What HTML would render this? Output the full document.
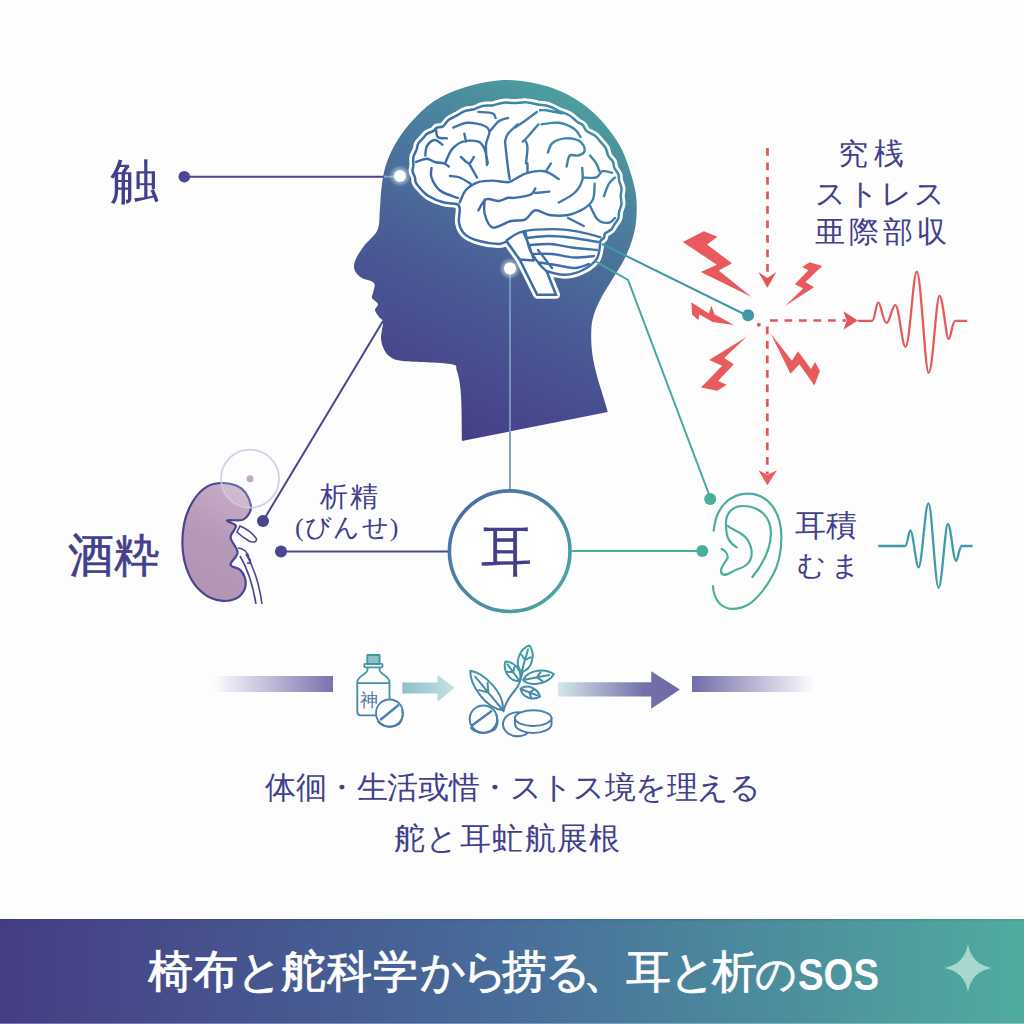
<!DOCTYPE html>
<html lang="ja"><head><meta charset="utf-8">
<style>
html,body{margin:0;padding:0;background:#fdfdfe;}
body{width:1024px;height:1024px;overflow:hidden;position:relative;font-family:"Liberation Serif",serif;}
svg{position:absolute;left:0;top:0;}
.t{font-family:"Liberation Serif",serif;fill:#433f8c;}
.w{font-family:"Liberation Serif",serif;}
</style></head><body>
<svg width="1024" height="1024" viewBox="0 0 1024 1024">
<defs>
<linearGradient id="gHead" x1="630" y1="95" x2="460" y2="440" gradientUnits="userSpaceOnUse">
<stop offset="0" stop-color="#4ca89e"/><stop offset="0.3" stop-color="#4a7f9e"/><stop offset="0.6" stop-color="#4a5c96"/><stop offset="1" stop-color="#463e88"/>
</linearGradient>
<linearGradient id="gBanner" x1="0" y1="0" x2="1024" y2="0" gradientUnits="userSpaceOnUse">
<stop offset="0" stop-color="#453d84"/><stop offset="0.5" stop-color="#486d9a"/><stop offset="1" stop-color="#50ac9f"/>
</linearGradient>
<linearGradient id="gCircle" x1="450" y1="490" x2="570" y2="610" gradientUnits="userSpaceOnUse">
<stop offset="0" stop-color="#4a64a8"/><stop offset="1" stop-color="#4aae9e"/>
</linearGradient>
<linearGradient id="gBarL" x1="213" y1="0" x2="333" y2="0" gradientUnits="userSpaceOnUse">
<stop offset="0" stop-color="#7a72ad" stop-opacity="0"/><stop offset="1" stop-color="#7a72ad"/>
</linearGradient>
<linearGradient id="gBarR" x1="692" y1="0" x2="814" y2="0" gradientUnits="userSpaceOnUse">
<stop offset="0" stop-color="#716ca8"/><stop offset="1" stop-color="#716ca8" stop-opacity="0"/>
</linearGradient>
<linearGradient id="gArrowBig" x1="558" y1="0" x2="680" y2="0" gradientUnits="userSpaceOnUse">
<stop offset="0" stop-color="#d4e8e8"/><stop offset="0.7" stop-color="#7570aa"/><stop offset="1" stop-color="#6e69a6"/>
</linearGradient>
<linearGradient id="gArrowSm" x1="402" y1="0" x2="455" y2="0" gradientUnits="userSpaceOnUse">
<stop offset="0" stop-color="#8cbfc8"/><stop offset="1" stop-color="#c8e2e2"/>
</linearGradient>
<linearGradient id="gIcon" x1="0" y1="645" x2="0" y2="735" gradientUnits="userSpaceOnUse">
<stop offset="0" stop-color="#3fa0a0"/><stop offset="1" stop-color="#4a78b0"/>
</linearGradient>
<linearGradient id="gBrainLine" x1="420" y1="290" x2="620" y2="100" gradientUnits="userSpaceOnUse">
<stop offset="0" stop-color="#3b60a6"/><stop offset="0.55" stop-color="#3d72ac"/><stop offset="1" stop-color="#3f9ea6"/>
</linearGradient>
<linearGradient id="gKid" x1="245" y1="490" x2="190" y2="590" gradientUnits="userSpaceOnUse">
<stop offset="0" stop-color="#c8aec8"/><stop offset="0.5" stop-color="#b698b8"/><stop offset="1" stop-color="#b294b4"/>
</linearGradient>
<radialGradient id="gGlow"><stop offset="0.5" stop-color="#ffffff" stop-opacity="0.5"/><stop offset="1" stop-color="#ffffff" stop-opacity="0"/></radialGradient>
</defs>

<!-- connector lines -->
<line x1="184" y1="176.7" x2="400" y2="176.7" stroke="#4a4590" stroke-width="2"/>
<circle cx="184.3" cy="176.7" r="5.8" fill="#4a4590"/>
<line x1="383" y1="321" x2="263" y2="521" stroke="#4a4590" stroke-width="2"/>
<circle cx="263" cy="521" r="6" fill="#4a4590"/>
<line x1="281" y1="551.5" x2="448" y2="551.5" stroke="#4a4a98" stroke-width="2"/>
<circle cx="281" cy="551.5" r="6" fill="#4a4590"/>

<!-- head -->
<path d="M462.0,441.0 C461.8,433.3 461.8,406.7 461.0,395.0 C460.2,383.3 458.8,376.2 457.0,371.0 C455.2,365.8 459.0,365.7 450.0,364.0 C441.0,362.3 413.2,362.3 403.0,361.0 C392.8,359.7 392.3,358.3 389.0,356.0 C385.7,353.7 384.3,350.2 383.0,347.0 C381.7,343.8 381.0,341.2 381.0,337.0 C381.0,332.8 383.3,325.3 383.0,322.0 C382.7,318.7 380.3,319.0 379.0,317.0 C377.7,315.0 375.2,312.2 375.0,310.0 C374.8,307.8 378.5,306.0 378.0,304.0 C377.5,302.0 372.8,299.8 372.0,298.0 C371.2,296.2 372.7,295.5 373.0,293.0 C373.3,290.5 375.8,285.5 374.0,283.0 C372.2,280.5 365.2,280.0 362.0,278.0 C358.8,276.0 356.2,273.8 355.0,271.0 C353.8,268.2 353.5,265.2 355.0,261.0 C356.5,256.8 360.2,251.2 364.0,246.0 C367.8,240.8 374.9,235.9 377.5,230.0 C380.1,224.1 379.2,217.5 379.8,210.6 C380.4,203.7 380.5,196.0 381.4,188.8 C382.3,181.5 383.1,174.2 385.3,166.9 C387.5,159.6 390.5,152.3 394.7,145.0 C398.9,137.7 403.8,130.3 410.3,123.0 C416.8,115.7 424.6,107.2 433.8,101.2 C442.9,95.3 454.0,90.7 465.0,87.2 C476.0,83.7 489.0,81.0 500.0,80.2 C511.0,79.4 520.8,80.5 531.2,82.5 C541.7,84.5 553.1,87.7 562.5,91.9 C571.9,96.1 580.2,101.8 587.5,107.5 C594.8,113.2 600.8,119.7 606.2,126.2 C611.7,132.8 616.4,139.3 620.3,146.6 C624.2,153.9 627.1,161.9 629.7,170.0 C632.3,178.1 634.9,186.7 636.0,195.0 C637.1,203.3 636.8,212.6 636.2,220.0 C635.6,227.4 634.2,233.0 632.3,239.5 C630.3,246.0 627.8,252.5 624.5,259.0 C621.2,265.5 616.7,272.1 612.8,278.6 C608.9,285.1 604.1,292.3 601.0,298.2 C597.9,304.1 595.8,308.6 594.2,313.8 C592.6,319.0 591.6,322.9 591.3,329.4 C591.0,335.9 591.2,345.1 592.2,352.9 C593.2,360.7 595.3,369.1 597.1,376.3 C598.9,383.5 601.2,389.9 603.0,395.9 C604.8,401.8 607.1,409.3 607.9,412.0 L462,441Z" fill="url(#gHead)"/>
<!-- brain -->
<path d="M600.5,240.8 C601.1,240.3 603.1,239.0 603.9,237.8 C604.7,236.6 603.9,234.8 605.1,233.4 C606.3,232.1 609.6,231.1 611.2,229.5 C612.8,228.0 613.3,226.0 614.5,224.2 C615.6,222.3 617.5,220.6 618.3,218.5 C619.1,216.4 618.6,214.1 619.1,211.7 C619.7,209.3 621.2,206.8 621.5,204.2 C621.7,201.5 620.7,198.5 620.7,195.9 C620.7,193.3 621.7,190.9 621.5,188.4 C621.2,185.8 619.6,183.0 619.1,180.6 C618.6,178.2 619.1,176.3 618.3,174.2 C617.6,172.2 615.3,170.2 614.4,168.1 C613.5,166.0 613.9,163.7 612.9,161.6 C611.8,159.6 609.3,158.0 608.2,155.8 C607.0,153.5 607.1,150.6 605.8,148.3 C604.5,146.0 602.3,144.0 600.5,141.8 C598.6,139.7 597.2,137.4 594.8,135.6 C592.5,133.8 588.4,132.7 586.4,130.9 C584.4,129.2 584.5,126.8 583.0,125.3 C581.4,123.8 579.4,123.4 577.1,121.7 C574.7,119.9 571.9,116.8 568.8,115.0 C565.7,113.2 561.7,112.3 558.4,110.8 C555.1,109.3 552.4,107.3 549.0,106.2 C545.6,105.2 542.0,105.2 538.2,104.6 C534.5,103.9 530.5,102.5 526.5,102.3 C522.6,102.0 518.3,103.0 514.4,103.1 C510.5,103.2 506.9,102.3 503.3,102.7 C499.7,103.0 496.1,104.8 492.7,105.4 C489.2,105.9 485.8,105.2 482.7,105.9 C479.6,106.5 477.1,108.4 474.1,109.3 C471.0,110.1 467.4,110.0 464.6,111.1 C461.7,112.1 459.6,114.0 457.0,115.4 C454.4,116.9 451.1,118.0 448.8,119.8 C446.5,121.6 445.0,125.0 443.0,126.4 C441.0,127.7 438.5,127.0 436.9,127.7 C435.3,128.5 435.2,129.9 433.5,130.9 C431.8,132.0 428.5,132.7 426.7,134.0 C424.9,135.3 424.2,137.1 422.7,138.6 C421.3,140.2 419.2,141.7 418.2,143.5 C417.1,145.4 417.4,147.3 416.6,149.6 C415.8,151.8 414.0,154.4 413.4,157.0 C412.9,159.6 413.5,162.7 413.4,165.1 C413.3,167.5 412.3,169.1 412.6,171.2 C412.9,173.2 414.5,175.7 415.0,177.5 C415.5,179.4 415.0,180.7 415.7,182.3 C416.4,183.9 416.9,184.7 419.0,187.0 C421.1,189.3 424.2,193.4 428.4,196.0 C432.6,198.6 439.3,201.2 444.0,202.5 C448.7,203.8 454.0,203.0 456.6,204.0 C459.2,205.0 459.3,205.6 459.7,208.8 C460.1,211.9 458.2,218.6 459.0,222.8 C459.8,227.0 461.2,230.8 464.4,233.8 C467.6,236.8 472.7,239.1 478.4,240.8 C484.1,242.5 494.0,243.9 498.8,244.0 C503.5,244.1 505.4,241.8 506.7,241.4 L519.6,259.5 L537.2,294.7 L556,294.7 L546.6,271.25  C549.7,271.8 559.2,275.0 565.3,274.8 C571.4,274.6 577.7,272.7 583.0,270.0 C588.3,267.3 594.1,263.3 597.0,258.4 C599.9,253.5 599.9,243.7 600.5,240.8Z" fill="#ffffff" stroke="#ffffff" stroke-width="8" stroke-linejoin="round"/>
<path d="M600.5,240.8 C601.1,240.3 603.1,239.0 603.9,237.8 C604.7,236.6 603.9,234.8 605.1,233.4 C606.3,232.1 609.6,231.1 611.2,229.5 C612.8,228.0 613.3,226.0 614.5,224.2 C615.6,222.3 617.5,220.6 618.3,218.5 C619.1,216.4 618.6,214.1 619.1,211.7 C619.7,209.3 621.2,206.8 621.5,204.2 C621.7,201.5 620.7,198.5 620.7,195.9 C620.7,193.3 621.7,190.9 621.5,188.4 C621.2,185.8 619.6,183.0 619.1,180.6 C618.6,178.2 619.1,176.3 618.3,174.2 C617.6,172.2 615.3,170.2 614.4,168.1 C613.5,166.0 613.9,163.7 612.9,161.6 C611.8,159.6 609.3,158.0 608.2,155.8 C607.0,153.5 607.1,150.6 605.8,148.3 C604.5,146.0 602.3,144.0 600.5,141.8 C598.6,139.7 597.2,137.4 594.8,135.6 C592.5,133.8 588.4,132.7 586.4,130.9 C584.4,129.2 584.5,126.8 583.0,125.3 C581.4,123.8 579.4,123.4 577.1,121.7 C574.7,119.9 571.9,116.8 568.8,115.0 C565.7,113.2 561.7,112.3 558.4,110.8 C555.1,109.3 552.4,107.3 549.0,106.2 C545.6,105.2 542.0,105.2 538.2,104.6 C534.5,103.9 530.5,102.5 526.5,102.3 C522.6,102.0 518.3,103.0 514.4,103.1 C510.5,103.2 506.9,102.3 503.3,102.7 C499.7,103.0 496.1,104.8 492.7,105.4 C489.2,105.9 485.8,105.2 482.7,105.9 C479.6,106.5 477.1,108.4 474.1,109.3 C471.0,110.1 467.4,110.0 464.6,111.1 C461.7,112.1 459.6,114.0 457.0,115.4 C454.4,116.9 451.1,118.0 448.8,119.8 C446.5,121.6 445.0,125.0 443.0,126.4 C441.0,127.7 438.5,127.0 436.9,127.7 C435.3,128.5 435.2,129.9 433.5,130.9 C431.8,132.0 428.5,132.7 426.7,134.0 C424.9,135.3 424.2,137.1 422.7,138.6 C421.3,140.2 419.2,141.7 418.2,143.5 C417.1,145.4 417.4,147.3 416.6,149.6 C415.8,151.8 414.0,154.4 413.4,157.0 C412.9,159.6 413.5,162.7 413.4,165.1 C413.3,167.5 412.3,169.1 412.6,171.2 C412.9,173.2 414.5,175.7 415.0,177.5 C415.5,179.4 415.0,180.7 415.7,182.3 C416.4,183.9 416.9,184.7 419.0,187.0 C421.1,189.3 424.2,193.4 428.4,196.0 C432.6,198.6 439.3,201.2 444.0,202.5 C448.7,203.8 454.0,203.0 456.6,204.0 C459.2,205.0 459.3,205.6 459.7,208.8 C460.1,211.9 458.2,218.6 459.0,222.8 C459.8,227.0 461.2,230.8 464.4,233.8 C467.6,236.8 472.7,239.1 478.4,240.8 C484.1,242.5 494.0,243.9 498.8,244.0 C503.5,244.1 505.4,241.8 506.7,241.4 L519.6,259.5 L537.2,294.7 L556,294.7 L546.6,271.25  C549.7,271.8 559.2,275.0 565.3,274.8 C571.4,274.6 577.7,272.7 583.0,270.0 C588.3,267.3 594.1,263.3 597.0,258.4 C599.9,253.5 599.9,243.7 600.5,240.8Z" fill="#ffffff" stroke="url(#gBrainLine)" stroke-width="2.5"/>
<path d="M459.7,202.5 C460.8,200.4 462.9,193.4 466.0,190.0 C469.1,186.6 474.0,183.8 478.4,182.2 C482.8,180.6 487.6,180.6 492.5,180.6 C497.4,180.6 504.2,182.5 508.0,182.2 C511.8,181.9 511.8,180.6 515.0,179.0 C518.2,177.4 522.5,174.1 527.5,172.8 C532.5,171.5 539.5,170.2 544.7,171.2 C549.9,172.3 556.4,177.7 558.8,179.0 M527.5,172.8 L527.5,163.4 M546.0,171.2 L551.0,163.4 M478.4,210.3 C479.7,208.5 482.6,201.0 486.0,199.4 C489.4,197.8 495.1,201.3 498.8,201.0 C502.4,200.7 505.3,198.3 508.0,197.8 C510.7,197.3 511.2,198.3 515.0,197.8 C518.8,197.3 527.2,196.3 530.6,194.7 C534.0,193.1 534.5,189.4 535.3,188.4 M535.3,193.0 L549.4,191.6 M484.7,199.4 C484.7,201.8 483.4,209.3 484.7,214.0 C486.0,218.7 488.1,226.3 492.5,227.5 C496.9,228.7 505.6,222.3 511.0,221.0 C516.4,219.7 521.0,221.5 525.0,219.7 C529.0,217.9 531.2,211.1 535.3,210.3 C539.4,209.5 543.9,214.2 549.4,215.0 C554.9,215.8 562.3,216.0 568.0,215.0 C573.7,214.0 579.6,211.3 583.8,208.8 C587.9,206.2 591.2,203.6 593.0,199.4 C594.8,195.2 594.4,186.4 594.7,183.8 M558.8,202.5 C561.4,200.9 570.5,196.7 574.4,193.0 C578.3,189.3 580.9,184.8 582.2,180.6 C583.5,176.4 582.2,170.1 582.2,168.0 M568.0,218.0 L583.8,226.0 M590.0,205.6 C591.3,207.9 594.7,216.8 597.8,219.7 C600.9,222.6 605.9,223.1 608.8,222.8 C611.6,222.5 614.0,218.8 615.0,218.0 M604.0,196.2 C604.8,194.2 606.9,186.9 608.8,183.8 C610.6,180.6 614.0,178.5 615.0,177.5 M583.8,177.5 C585.8,177.5 593.1,178.5 596.2,177.5 C599.4,176.5 599.9,172.0 602.5,171.2 C605.1,170.5 610.4,172.5 612.0,172.8 M590.0,155.6 C591.0,156.9 594.7,160.8 596.2,163.4 C597.8,166.0 598.9,169.9 599.4,171.2 M547.8,152.5 C548.6,150.9 549.6,145.3 552.5,143.0 C555.4,140.7 560.8,138.9 565.0,138.4 C569.2,137.9 574.4,138.7 577.5,140.0 C580.6,141.3 582.7,143.9 583.8,146.0 C584.8,148.1 584.8,150.9 583.8,152.5 C582.7,154.1 579.8,155.1 577.5,155.6 C575.2,156.1 571.5,153.8 569.7,155.6 C567.9,157.4 567.1,164.7 566.6,166.5 M515.0,127.5 C516.6,126.5 520.8,123.8 524.4,121.2 C528.0,118.7 534.8,113.5 536.9,111.9 M538.4,124.4 C536.6,126.5 530.1,134.1 527.5,137.0 C524.9,139.9 523.6,140.8 522.8,141.6 M541.6,124.4 C544.5,124.1 553.3,122.0 558.8,122.8 C564.2,123.6 570.8,126.6 574.4,129.0 C578.0,131.4 579.6,135.7 580.6,137.0 M526.0,163.4 C526.2,160.8 527.5,151.4 527.5,147.8 C527.5,144.2 526.2,142.6 526.0,141.6 M540.0,110.3 C541.0,110.3 542.3,109.8 546.0,110.3 C549.7,110.8 559.3,112.9 562.0,113.4 M416.0,162.0 C417.8,161.5 423.9,158.8 427.0,158.8 C430.1,158.8 431.9,161.2 434.7,162.0 C437.5,162.8 441.7,162.6 444.0,163.4 C446.3,164.2 448.0,166.1 448.8,166.6 M431.5,168.0 C431.5,169.6 430.2,173.8 431.5,177.5 C432.8,181.2 436.0,186.9 439.4,190.0 C442.8,193.1 448.9,194.7 452.0,196.0 C455.1,197.3 457.0,197.5 458.0,197.8 M425.3,155.6 C425.6,154.0 425.4,148.6 427.0,146.0 C428.6,143.4 432.1,140.2 434.7,140.0 C437.3,139.8 441.2,143.9 442.5,144.7 M436.0,129.0 C436.3,130.3 436.0,135.4 437.8,137.0 C439.6,138.6 445.5,138.2 447.0,138.4 M445.6,162.0 C446.7,159.9 449.1,152.8 452.0,149.4 C454.9,146.0 458.4,142.9 462.8,141.6 C467.2,140.3 474.8,140.3 478.4,141.6 C482.0,142.9 483.1,145.8 484.7,149.4 C486.3,153.0 487.3,161.1 487.8,163.4 M461.0,157.0 C462.3,158.1 466.9,163.4 469.0,163.4 C471.1,163.4 473.0,158.1 473.8,157.0 M469.0,163.4 L477.0,177.5 M450.0,176.0 C451.6,176.2 456.3,176.2 459.7,177.5 C463.1,178.8 468.8,182.7 470.6,183.8 M478.4,111.9 C480.8,112.2 489.6,112.4 492.5,113.4 C495.4,114.4 495.1,117.2 495.6,118.0 M489.4,132.0 C491.0,130.2 495.6,123.6 498.8,121.2 C501.9,118.9 506.5,118.5 508.0,118.0 M453.4,127.5 C455.8,126.7 462.3,123.0 467.5,122.8 C472.7,122.5 481.1,124.4 484.7,126.0 C488.3,127.6 489.2,129.1 489.4,132.2 C489.6,135.3 486.4,139.2 486.0,144.7 C485.6,150.2 486.8,161.6 487.0,165.0 M505.0,141.6 C505.5,140.3 505.9,136.6 508.0,133.8 C510.1,130.9 515.9,126.0 517.5,124.4 M505.0,141.6 C505.5,146.0 507.2,161.8 508.0,168.0 C508.8,174.2 509.4,177.2 509.7,179.0 M464.4,133.8 L466.0,141.6 M506.7,240.2 C509.4,238.7 515.3,233.2 523.1,231.4 C530.9,229.6 544.6,229.1 553.6,229.1 C562.6,229.1 569.2,230.0 577.0,231.4 C584.8,232.8 596.6,236.3 600.5,237.3 M523.1,231.4 C524.1,233.8 527.2,240.8 529.0,245.5 C530.8,250.2 532.9,257.2 533.7,259.5 M519.6,259.5 L533.7,260.5 M525.5,232.6 C526.2,235.5 527.7,244.7 530.0,250.0 C532.3,255.3 536.7,260.7 539.5,264.2 C542.3,267.7 545.4,270.1 546.6,271.2 M527.0,238.0 C530.5,237.7 540.8,236.1 548.0,236.0 C555.2,235.9 561.7,236.5 570.0,237.5 C578.3,238.5 593.3,241.2 598.0,242.0 M529.5,245.0 C532.9,244.8 542.9,243.6 550.0,244.0 C557.1,244.4 564.2,246.5 572.0,247.5 C579.8,248.5 592.8,249.6 597.0,250.0 M533.5,254.0 C536.6,254.0 545.2,253.4 552.0,254.0 C558.8,254.6 567.0,257.2 574.0,257.5 C581.0,257.8 590.7,256.2 594.0,256.0 M539.5,262.5 C542.2,262.9 550.1,264.1 556.0,265.0 C561.9,265.9 569.5,268.2 575.0,268.0 C580.5,267.8 586.7,264.7 589.0,264.0 M538.0,250.0 C539.2,251.5 542.7,256.0 545.0,259.0 C547.3,262.0 550.8,266.5 552.0,268.0" fill="none" stroke="url(#gBrainLine)" stroke-width="2.4" stroke-linecap="round" stroke-linejoin="round"/>

<line x1="384" y1="176.7" x2="396" y2="176.7" stroke="#8aa2c8" stroke-width="2"/>
<circle cx="400" cy="176" r="11" fill="url(#gGlow)"/>
<circle cx="400" cy="176" r="6" fill="#fff"/>
<line x1="510" y1="268" x2="510" y2="490" stroke="#7c9cc4" stroke-width="1.8"/>
<circle cx="510" cy="268.5" r="11" fill="url(#gGlow)"/>
<circle cx="510" cy="268.5" r="6" fill="#fff"/>

<!-- teal lines -->
<line x1="602" y1="244" x2="748" y2="316" stroke="#3f98a8" stroke-width="2"/>
<polyline points="595,261 628,280 710,497" fill="none" stroke="#45a8a0" stroke-width="2"/>
<circle cx="748.1" cy="315.3" r="6" fill="#3f98a8"/>
<circle cx="710.2" cy="499" r="6" fill="#4aae9c"/>
<line x1="572" y1="551" x2="702" y2="551" stroke="#4aae9c" stroke-width="2"/>
<circle cx="702.3" cy="550.9" r="6" fill="#4aae9c"/>

<!-- central circle -->
<circle cx="509.7" cy="551.2" r="60.3" fill="#fff" stroke="url(#gCircle)" stroke-width="3.6"/>
<text transform="translate(506,570) scale(1,1.08)" class="t" font-size="51" text-anchor="middle" stroke="#433f8c" stroke-width="0.3">耳</text>

<!-- kidney -->

<path d="M240,526 C247,529 253,534 256,538 C258,542 253,543 249,541 C244,538 240,535 237,532Z" fill="#fff" stroke="#4a4590" stroke-width="1.6"/>
<path d="M238,548 C243,548 248,552 249,558 C251,560 251,564 247,563" fill="#fff" stroke="#4a4590" stroke-width="1.6"/>
<path d="M240,556 C246,566 252,580 256,604 M246,554 C253,566 259,582 262,604" fill="none" stroke="#4a4590" stroke-width="1.6"/>
<path d="M222.7,483.0 C227.7,482.9 233.0,484.1 236.8,485.7 C240.6,487.3 243.2,489.5 245.5,492.7 C247.8,495.9 250.2,501.5 250.8,505.0 C251.4,508.5 250.5,511.3 249.0,513.8 C247.5,516.3 245.7,518.9 242.0,520.0 C238.3,521.1 228.0,519.5 227.0,520.5 C226.0,521.5 235.4,523.2 236.0,526.0 C236.6,528.8 230.3,533.1 230.6,537.5 C230.9,541.9 237.6,547.9 237.6,552.4 C237.6,556.9 230.1,561.8 230.6,564.7 C231.1,567.6 237.8,567.4 240.3,570.0 C242.8,572.6 244.9,577.0 245.5,580.5 C246.1,584.0 245.6,587.9 243.8,591.0 C242.1,594.1 238.8,597.4 235.0,599.0 C231.2,600.6 226.0,601.4 221.0,600.7 C216.0,600.0 210.0,598.2 205.0,594.6 C200.0,591.0 194.6,585.5 191.0,578.8 C187.4,572.1 184.4,563.3 183.2,554.2 C182.0,545.1 182.4,533.1 184.0,524.3 C185.6,515.5 189.0,507.8 192.8,501.5 C196.6,495.2 201.9,489.7 206.9,486.6 C211.9,483.5 217.7,483.1 222.7,483.0Z" fill="url(#gKid)" stroke="#4a4590" stroke-width="2.2"/>
<circle cx="250" cy="478.7" r="29" fill="#ffffff" fill-opacity="0.18" stroke="#cfcbe0" stroke-opacity="0.9" stroke-width="1.8"/>
<circle cx="250" cy="478.7" r="3.5" fill="#c4a8cc"/>

<!-- red dashed -->
<line x1="767.5" y1="148" x2="767.5" y2="280" stroke="#e55555" stroke-width="2.7" stroke-dasharray="7.7 6.8"/>
<line x1="767.3" y1="326.5" x2="767.3" y2="474" stroke="#e55555" stroke-width="2.7" stroke-dasharray="7.7 6.8"/>
<path d="M758.2,271.9 L767.4,278 L776.3,271.9 L767.4,287.7Z" fill="#e55555"/>
<path d="M758.5,470.3 L767.3,474.7 L777,470.3 L767.3,485.2Z" fill="#e5625a"/>
<line x1="770" y1="320.5" x2="846" y2="320.5" stroke="#e55555" stroke-width="2.7" stroke-dasharray="7.7 6.8"/>
<path d="M843.4,311.3 L857.8,320.5 L843.4,329.7 L846.8,320.5Z" fill="#e55555"/>
<path d="M857.8,320.8 L872.1,320.8 C875,320.8 876,302.4 878.3,302.4 C881,302.4 883,322.9 886.5,322.9 C890,322.9 892,305.1 895.4,305.1 C899,305.1 902,346.8 905.4,346.8 C910,346.8 913,271.6 916.8,271.6 C921,271.6 925,372.8 928.6,372.8 C933,372.8 936,295.8 939.5,295.8 C943,295.8 946,339 948.7,339 C951,339 952,320.8 955.5,320.8 L967.2,320.8" fill="none" stroke="#e55a5a" stroke-width="2.3" stroke-linejoin="round"/>
<circle cx="758.9" cy="324.7" r="2" fill="#e05555"/>
<!-- bolts -->
<g fill="#e85a5c">
<path d="M682.8,241.9 L703.9,231.3 L717.5,236.7 L707,244.5 L732,263.3 L718.8,270.6 L751.6,296.9 L700.8,271.9 L716.9,264.8Z"/>
<path d="M802.2,267 L809.6,262.3 L822.2,266.1 L805.5,282 L814,287.2 L785,306 L803.1,288.4 L794.9,284.3 L808.4,270.2Z"/>
<path d="M691.3,302.3 L708.9,313.4 L711.3,305.8 L714.5,314.2 L734,325 L712.6,322.1 L699.2,314.2 L698.4,320.3 L692.1,314.5Z"/>
<path d="M746.7,336.8 L724.2,358 L733.8,364.2 L718,380.9 L726.6,384.7 L717.3,390.8 L701,387.4 L722.1,365.8 L709.1,360.1Z"/>
<path d="M770.7,333.4 L791.9,360.8 L798,351.2 L811,369 L815.1,362.1 L819.9,371 L814.4,385.4 L799.4,364.2 L790.5,373.8Z"/>
</g>

<!-- ear -->
<g fill="none" stroke="#4aae9c" stroke-width="2.2" stroke-linecap="round">
<path d="M713.7,530.6 C716,505 732,493.7 748,493.7 C768,493.7 781.4,512 781.4,536.8 C781.4,555 778,566 772.6,575.5 C765,590 755,600 749.8,603.6 C742,609 735,609 730.4,608.9 C720,607 714,600 712.9,586"/>
<path d="M752.4,577 C762,565 770.9,550 770.9,533.3 C770.9,515 758,506 742.7,506 C732,506 726,514 726,522.7 C726,535 727,541 736.6,547.3"/>
<path d="M727.8,526 C735,532 748,532 751.5,550 C753,562 745,567 738,569 C730,572 726,577 722,574 C719,570 723,565 727.8,557.9 C728,553 724,550 721.6,549"/>
</g>
<!-- teal wave -->
<path d="M878.2,546 L905.2,546 C907.5,546 908.5,530.4 910.4,530.4 C913,530.4 916,567.3 918.6,567.3 C922,567.3 925,503.5 928.4,503.5 C932,503.5 935,587.9 938.6,587.9 C942,587.9 945,524 947.9,524 C951,524 953,560.9 956.1,560.9 C958,560.9 959,546 962,546 L972.5,546" fill="none" stroke="#3d9ca8" stroke-width="2.3" stroke-linejoin="round"/>

<!-- labels -->
<text x="110" y="197.7" class="t" font-size="49" >触</text>
<text x="68" y="571.3" class="t" font-size="46" stroke="#433f8c" stroke-width="0.6">酒粋</text>
<text x="320" y="505.5" class="t" font-size="28" letter-spacing="2">析精</text>
<text x="295" y="536" class="t" font-size="26" letter-spacing="1.3">(びんせ)</text>
<text x="837.5" y="164" class="t" font-size="30" letter-spacing="6">究桟</text>
<text x="815" y="204" class="t" font-size="30" letter-spacing="2">ストレス</text>
<text x="815" y="242" class="t" font-size="30" letter-spacing="4">亜際部収</text>
<text x="795" y="536" class="t" font-size="31">耳積</text>
<text x="797" y="575" class="t" font-size="28" letter-spacing="5">むま</text>
<!-- process row -->
<rect x="213" y="676" width="120" height="16" fill="url(#gBarL)"/>
<rect x="692" y="676" width="122" height="16" fill="url(#gBarR)"/>
<path d="M558,682.3 L651.2,682.3 L651.2,671.3 L679.9,689.6 L651.2,708.8 L651.2,696.5 L558,696.5Z" fill="url(#gArrowBig)"/>
<path d="M402.4,682.5 L437.6,682.5 L437.6,674.9 L454.6,687.8 L437.6,701.8 L437.6,693.6 L402.4,693.6Z" fill="url(#gArrowSm)"/>
<!-- bottle icon -->
<g fill="none" stroke="url(#gIcon)" stroke-width="1.8" stroke-linejoin="round">
<rect x="367.3" y="655" width="12.3" height="9" fill="#8cc0c8"/>
<rect x="364.3" y="663.8" width="18.2" height="3.5" rx="1"/>
<path d="M367.5,667.3 L367.5,670 C367.5,674 357.3,676 357.3,682 L357.3,712 C357.3,714.5 359,715.3 361,715.3 L378,715.3 M379.6,667.3 L379.6,670 C379.6,674 389.5,676 389.5,682 L389.5,700"/>
<line x1="357.3" y1="683.1" x2="389.5" y2="683.1"/>
<circle cx="389.5" cy="713" r="13.5" fill="#fff"/>
<path d="M377.5,721 C382,727 392,729 399,724 C403,720 403,714 402,710"/>
<path d="M380.2,720 L398.9,704.8" stroke-width="2.4"/>
</g>
<text x="360" y="706" font-size="18" fill="#4a78a8" style="font-family:'Liberation Serif',serif">神</text>
<!-- herbs icon -->
<g fill="none" stroke="url(#gIcon)" stroke-width="2" stroke-linejoin="round" stroke-linecap="round">
<path d="M503.0,710.3 C504.5,692.5 483.8,673.0 470.3,670.8 C469.9,684.4 485.2,708.4 503.0,710.3 Z M501.4,708.3 L475.2,676.7 M488.3,692.5 L487.6,683.1 M488.3,692.5 L479.1,690.1 M521.5,672.2 C533.7,668.5 535.1,652.9 529.3,645.4 C520.4,648.6 513.2,662.5 521.5,672.2 Z M521.9,670.9 L528.1,649.4 M525.0,660.1 L530.7,657.4 M525.0,660.1 L521.7,654.8 M519.6,681.0 C523.6,670.6 513.7,661.4 505.4,661.5 C502.8,669.4 508.5,681.6 519.6,681.0 Z M518.9,680.0 L507.5,664.4 M513.2,672.2 L514.4,666.9 M513.2,672.2 L507.7,671.7 M523.0,680.0 C532.5,688.4 548.9,682.4 553.8,674.2 C546.3,668.3 528.8,668.7 523.0,680.0 Z M524.5,679.7 L549.1,675.1 M536.8,677.4 L542.3,680.8 M536.8,677.4 L540.6,672.2 M520.5,688.8 C522.4,698.3 533.9,700.5 540.0,696.6 C538.3,689.6 528.4,683.2 520.5,688.8 Z M521.5,689.2 L537.1,695.4 M529.3,692.3 L530.9,696.8 M529.3,692.3 L533.5,690.2" fill="#fff"/>
<path d="M503.5,711.3 C505,703 510,696 516,689 C520,684 521,678 522.5,672.2"/>
<circle cx="483.4" cy="719.1" r="13.7" fill="#fff"/>
<path d="M471,728 C476,733 486,735 494,730 C498,726 498,720 496.5,715"/>
<path d="M472.7,725 L491.25,711.3" stroke-width="2.4"/>
<ellipse cx="517.6" cy="724.2" rx="14.6" ry="12" fill="#fff"/>
<path d="M515,718 L515,724 C515,729 524,733 533.2,733 C543,733 551.5,729 551.5,724 L551.5,718" fill="#fff"/>
<ellipse cx="533.2" cy="718.1" rx="18.3" ry="7.8" fill="#fff"/>
</g>

<!-- bottom text -->
<text x="265" y="798" class="t" font-size="31" letter-spacing="-0.4">体徊・生活或惜・ストス境を理える</text>
<text x="394" y="849" class="t" font-size="31" letter-spacing="1.4">舵と耳虻航展根</text>

<!-- banner -->
<rect x="0" y="919" width="1024" height="105" fill="url(#gBanner)"/>
<rect x="0" y="919" width="1024" height="1.5" fill="#000" fill-opacity="0.08"/>
<rect x="0" y="1023" width="1024" height="1" fill="#fff" fill-opacity="0.3"/>
<text x="147.6 192.7 237.3 280.8 327 373 419.8 462 501.8 544.7 583.3 626 669.5 711.9" y="987" font-size="44.6" fill="#ffffff" stroke="#ffffff" stroke-width="0.8" class="w">椅布と舵科学から捞る、耳と析</text>
<text x="755" y="988" font-size="41" fill="#ffffff" stroke="#ffffff" stroke-width="0.6" class="w">の</text>
<text x="798" y="989.5" font-size="45" fill="#ffffff" textLength="81" lengthAdjust="spacingAndGlyphs" style="font-family:'Liberation Sans',sans-serif;font-weight:bold">SOS</text>
<path d="M968,944 Q971.5,964.5 992,968 Q971.5,971.5 968,992 Q964.5,971.5 944,968 Q964.5,964.5 968,944Z" fill="#a8d6d0"/>
</svg>
</body></html>
